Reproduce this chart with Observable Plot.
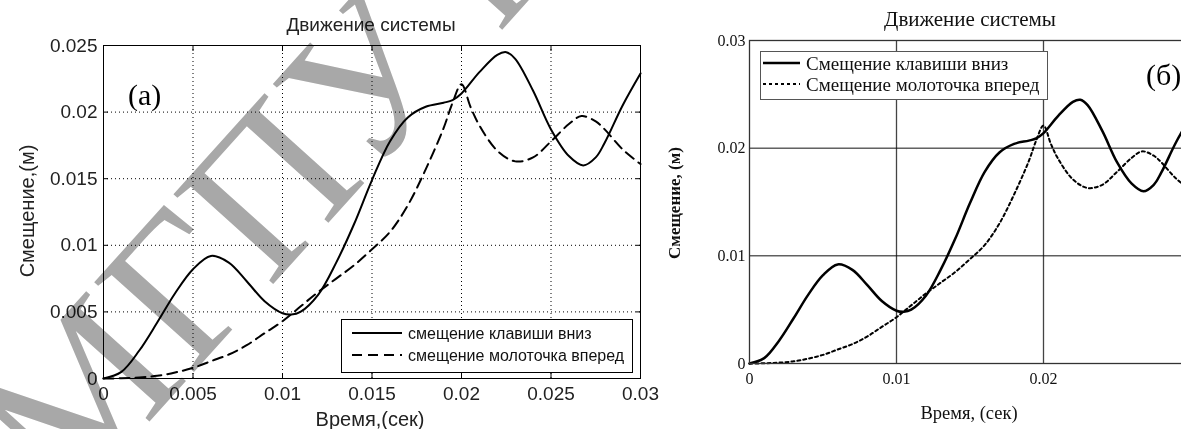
<!DOCTYPE html>
<html>
<head>
<meta charset="utf-8">
<script src="https://cdn.jsdelivr.net/npm/d3@7"></script>
<script src="https://cdn.jsdelivr.net/npm/@observablehq/plot@0.6"></script>
<style>
  html, body { margin: 0; padding: 0; background: #fff; }
  #root { position: relative; width: 1181px; height: 429px; overflow: hidden; background: #fff; }
  .abs { position: absolute; white-space: nowrap; }
  .sans { font-family: "Liberation Sans", Arial, sans-serif; color: #222; }
  .serif { font-family: "Liberation Serif", "Times New Roman", serif; color: #111; }
</style>
</head>
<body>
<div id="root"></div>
<script>
// ---- data ----
const keyT = [0, 0.001, 0.002, 0.003, 0.004, 0.005, 0.006, 0.007, 0.008, 0.009, 0.010, 0.0105, 0.011, 0.012, 0.013, 0.014, 0.015, 0.016, 0.017, 0.018, 0.019, 0.0195, 0.020, 0.021, 0.022, 0.0225, 0.023, 0.024, 0.025, 0.026, 0.0268, 0.0275, 0.028, 0.029, 0.030];
const keyV = [0, 0.0005, 0.0021, 0.0042, 0.0064, 0.0082, 0.0092, 0.0087, 0.0073, 0.0058, 0.0049, 0.0048, 0.0050, 0.0063, 0.0087, 0.0116, 0.0149, 0.0178, 0.0196, 0.0204, 0.0207, 0.0209, 0.0214, 0.0230, 0.0243, 0.0245, 0.0240, 0.0216, 0.0187, 0.0167, 0.0160, 0.0166, 0.0177, 0.0205, 0.0229];
const hamT = [0, 0.001, 0.002, 0.003, 0.004, 0.005, 0.006, 0.007, 0.008, 0.009, 0.010, 0.011, 0.012, 0.013, 0.014, 0.015, 0.016, 0.017, 0.018, 0.019, 0.0195, 0.020, 0.0205, 0.021, 0.022, 0.023, 0.024, 0.025, 0.026, 0.0267, 0.0275, 0.028, 0.029, 0.030];
const hamV = [0, 0.00002, 0.00008, 0.0002, 0.00045, 0.0008, 0.0013, 0.0018, 0.0025, 0.0034, 0.0043, 0.0054, 0.0065, 0.0075, 0.0085, 0.0097, 0.0110, 0.0130, 0.0157, 0.0188, 0.0207, 0.0221, 0.0204, 0.0190, 0.0171, 0.0163, 0.0166, 0.0178, 0.0191, 0.0197, 0.0193, 0.0187, 0.0172, 0.0161];

const xTicksA = [0, 0.005, 0.01, 0.015, 0.02, 0.025, 0.03];
const yTicksA = [0, 0.005, 0.01, 0.015, 0.02, 0.025];
const xTicksB = [0, 0.01, 0.02];
const yTicksB = [0, 0.01, 0.02, 0.03];

const titleText = "Движение системы";
const xLabelA = "Время,(сек)";
const yLabelA = "Смещение,(м)";
const legendA = ["смещение клавиши вниз", "смещение молоточка вперед"];
const xLabelB = "Время, (сек)";
const yLabelB = "Смещение, (м)";
const legendB = ["Смещение клавиши вниз", "Смещение молоточка вперед"];
const watermark = "МГПУ им";

const keyData = keyT.map((t, i) => ({t, v: keyV[i]}));
const hamData = hamT.map((t, i) => ({t, v: hamV[i]}));
const fmt = d => d === 0 ? "0" : String(+d.toFixed(3));

const root = document.getElementById("root");
function place(el, left, top) {
  el.style.position = "absolute"; el.style.left = left + "px"; el.style.top = top + "px";
  root.appendChild(el);
  return el;
}
function label(text, cls, css) {
  const d = document.createElement("div");
  d.className = "abs " + cls;
  d.textContent = text;
  Object.assign(d.style, css);
  root.appendChild(d);
  return d;
}

// ---- panel (a): MATLAB style ----
const plotA = Plot.plot({
  width: 680, height: 429,
  marginLeft: 103, marginRight: 40, marginTop: 45, marginBottom: 51,
  style: {background: "transparent", fontFamily: "'Liberation Sans', Arial, sans-serif", fontSize: "19px", color: "#222", maxWidth: "none"},
  x: {domain: [0, 0.03], label: null},
  y: {domain: [0, 0.025], label: null},
  marks: [
    Plot.gridX(xTicksA.slice(1, -1), {stroke: "#000", strokeOpacity: 1, strokeDasharray: "1,3"}),
    Plot.gridY(yTicksA.slice(1, -1), {stroke: "#000", strokeOpacity: 1, strokeDasharray: "1,3"}),
    Plot.axisX(xTicksA, {anchor: "bottom", tickSize: -5, tickFormat: () => "", stroke: "#000"}),
    Plot.axisX(xTicksA, {anchor: "top", tickSize: -5, tickFormat: () => "", stroke: "#000"}),
    Plot.axisY(yTicksA, {anchor: "left", tickSize: -5, tickFormat: () => "", stroke: "#000"}),
    Plot.axisY(yTicksA, {anchor: "right", tickSize: -5, tickFormat: () => "", stroke: "#000"}),
    Plot.axisX(xTicksA, {anchor: "bottom", tickSize: 0, tickPadding: 8, tickFormat: fmt}),
    Plot.axisY(yTicksA, {anchor: "left", tickSize: 0, tickPadding: 6, tickFormat: fmt}),
    Plot.line(keyData, {x: "t", y: "v", curve: "catmull-rom", stroke: "#000", strokeWidth: 2}),
    Plot.line(hamData, {x: "t", y: "v", curve: "catmull-rom", stroke: "#000", strokeWidth: 2, strokeDasharray: "10,6"}),
    Plot.frame({stroke: "#000"})
  ]
});
place(plotA, 0, 0);

// ---- panel (b): serif style, cropped at the right ----
const plotB = Plot.plot({
  width: 500, height: 429,
  marginLeft: 49, marginRight: 10, marginTop: 40, marginBottom: 66,
  style: {background: "transparent", fontFamily: "'Liberation Serif', 'Times New Roman', serif", fontSize: "16px", color: "#111", maxWidth: "none"},
  x: {domain: [0, 0.03], label: null},
  y: {domain: [0, 0.03], label: null},
  marks: [
    Plot.gridX([0.01, 0.02], {stroke: "#444", strokeOpacity: 1, strokeWidth: 1.3}),
    Plot.gridY([0.01, 0.02], {stroke: "#111", strokeOpacity: 1}),
    Plot.axisX(xTicksB, {anchor: "bottom", tickSize: 0, tickPadding: 9, tickFormat: fmt}),
    Plot.axisY(yTicksB, {anchor: "left", tickSize: 0, tickPadding: 4, tickFormat: fmt}),
    Plot.line(keyData, {x: "t", y: "v", curve: "catmull-rom", stroke: "#000", strokeWidth: 2.5}),
    Plot.line(hamData, {x: "t", y: "v", curve: "catmull-rom", stroke: "#000", strokeWidth: 2, strokeDasharray: "3,3"}),
    Plot.frame({stroke: "#333", strokeWidth: 1.3})
  ]
});
place(plotB, 700, 0);

// ---- texts of panel (a) ----
label(titleText, "sans", {left: "371px", top: "14px", fontSize: "19px", transform: "translateX(-50%)"});
label(xLabelA, "sans", {left: "370px", top: "408px", fontSize: "20px", transform: "translateX(-50%)"});
label(yLabelA, "sans", {left: "27px", top: "211px", fontSize: "20px", transform: "translate(-50%,-50%) rotate(-90deg)"});
label("(a)", "serif", {left: "128px", top: "78px", fontSize: "30px", color: "#000"});

// legend boxes
function legend(left, top, w, h, border, items, dashes, widths, lineX0, lineX1, rowY, textX, font, size) {
  const box = document.createElement("div");
  Object.assign(box.style, {position: "absolute", left: left + "px", top: top + "px", width: w + "px", height: h + "px",
    border: border, background: "#fff", boxSizing: "border-box"});
  root.appendChild(box);
  const ns = "http://www.w3.org/2000/svg";
  const svg = document.createElementNS(ns, "svg");
  svg.setAttribute("width", w); svg.setAttribute("height", h);
  svg.style.position = "absolute"; svg.style.left = "-1px"; svg.style.top = "-1px";
  items.forEach((txt, i) => {
    const ln = document.createElementNS(ns, "line");
    ln.setAttribute("x1", lineX0); ln.setAttribute("x2", lineX1);
    ln.setAttribute("y1", rowY[i]); ln.setAttribute("y2", rowY[i]);
    ln.setAttribute("stroke", "#000"); ln.setAttribute("stroke-width", widths[i]);
    if (dashes[i]) ln.setAttribute("stroke-dasharray", dashes[i]);
    svg.appendChild(ln);
    const tx = document.createElementNS(ns, "text");
    tx.setAttribute("x", textX); tx.setAttribute("y", rowY[i]);
    tx.setAttribute("dominant-baseline", "central");
    tx.setAttribute("font-family", font); tx.setAttribute("font-size", size);
    tx.setAttribute("fill", "#111");
    tx.textContent = txt;
    svg.appendChild(tx);
  });
  box.appendChild(svg);
}
legend(341, 319, 292, 54, "1px solid #000", legendA, [null, "10,6"], [2, 2], 11, 61, [14, 36], 67, "'Liberation Sans', Arial, sans-serif", 16);

// ---- texts of panel (b) ----
label(titleText, "serif", {left: "970px", top: "7px", fontSize: "21px", transform: "translateX(-50%)"});
label(xLabelB, "serif", {left: "969px", top: "403px", fontSize: "18.5px", transform: "translateX(-50%)"});
label(yLabelB, "serif", {left: "675px", top: "203px", fontSize: "17px", fontWeight: "bold", transform: "translate(-50%,-50%) rotate(-90deg)"});
label("(б)", "serif", {left: "1146px", top: "58px", fontSize: "30px", color: "#000"});
legend(760, 51, 288, 49, "1px solid #555", legendB, [null, "3,3"], [2.5, 2], 3, 40, [12, 33], 46, "'Liberation Serif', 'Times New Roman', serif", 19);

// ---- watermark ----
(function () {
  const ns = "http://www.w3.org/2000/svg";
  const svg = document.createElementNS(ns, "svg");
  svg.setAttribute("width", 1181); svg.setAttribute("height", 429);
  Object.assign(svg.style, {position: "absolute", left: "0px", top: "0px", mixBlendMode: "multiply", pointerEvents: "none"});
  const tx = document.createElementNS(ns, "text");
  tx.setAttribute("x", 68); tx.setAttribute("y", 512);
  tx.setAttribute("transform", "rotate(-48 68 512)");
  tx.setAttribute("font-family", "'Liberation Serif', 'Times New Roman', serif");
  tx.setAttribute("font-size", 205);
  tx.setAttribute("fill", "#a8a8a8");
  tx.textContent = watermark;
  svg.appendChild(tx);
  root.appendChild(svg);
})();
</script>
</body>
</html>
